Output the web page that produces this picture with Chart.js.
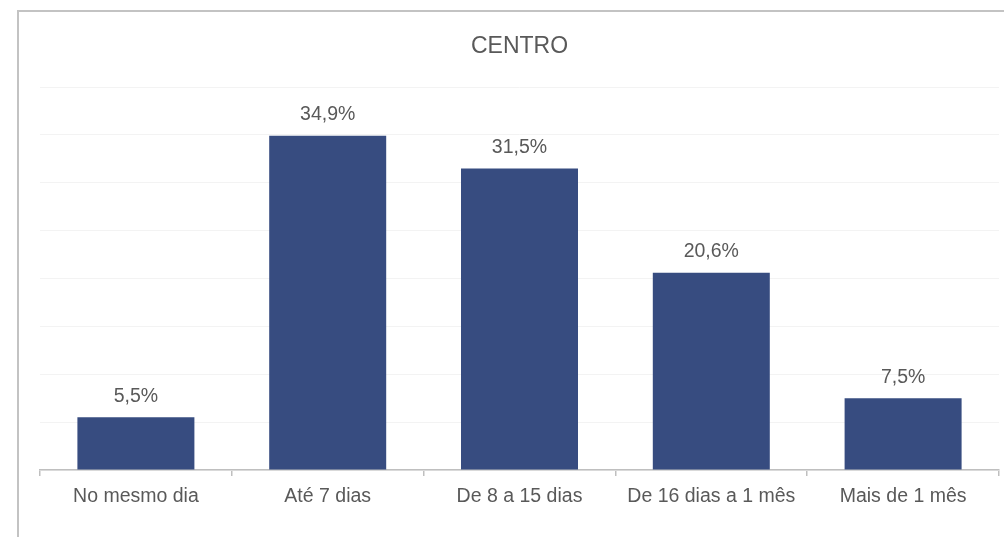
<!DOCTYPE html>
<html>
<head>
<meta charset="utf-8">
<script src="https://cdn.jsdelivr.net/npm/chart.js@4"></script>
<style>
  html, body { margin: 0; padding: 0; background: #fff; overflow: hidden; }
  #frame { position: absolute; left: 17px; top: 10px; width: 1100px; height: 600px;
           border-left: 2px solid #c3c3c3; border-top: 2px solid #c3c3c3; }
  #wrap { position: absolute; left: 0; top: 0; width: 1004px; height: 537px; }
</style>
</head>
<body>
<div id="frame"></div>
<div id="wrap"><canvas id="myChart"></canvas></div>
<script>
'use strict';
// values (percent)
let categories = ['No mesmo dia', 'Até 7 dias', 'De 8 a 15 dias', 'De 16 dias a 1 mês', 'Mais de 1 mês'];
let values = [5.5, 34.9, 31.5, 20.6, 7.5];
let chartTitle = 'CENTRO';
let fontName = '"Liberation Sans", Arial, sans-serif';
let textColor = '#595959';

// draws the "34,9%" labels over each bar
let barLabels = {
    id: 'barLabels',
    afterDatasetsDraw(chart) {
        let ctx = chart.ctx;
        let meta = chart.getDatasetMeta(0);
        ctx.save();
        ctx.font = '19.5px ' + fontName;
        ctx.fillStyle = textColor;
        ctx.textAlign = 'center';
        ctx.textBaseline = 'middle';
        meta.data.forEach(function (bar, i) {
            let txt = values[i].toFixed(1).replace('.', ',') + '%';
            ctx.fillText(txt, bar.x, bar.y - 21);
        });
        ctx.restore();
    }
};

let ctx = document.getElementById('myChart').getContext('2d');
let myChart = new Chart(ctx, {
    type: 'bar',
    data: {
        labels: categories,
        datasets: [{
            data: values,
            backgroundColor: '#374C80',
            borderWidth: 0,
            categoryPercentage: 1,
            barPercentage: 0.61
        }]
    },
    plugins: [barLabels],
    options: {
        responsive: true,
        maintainAspectRatio: false,
        animation: false,
        layout: { padding: { left: 40, right: 5, top: 0, bottom: 0 } },
        plugins: {
            legend: { display: false },
            tooltip: { enabled: false },
            title: {
                display: true,
                text: chartTitle,
                color: textColor,
                font: { family: fontName, size: 23, weight: 'normal' },
                padding: { top: 33, bottom: 26.4 }
            }
        },
        scales: {
            x: {
                offset: true,
                grid: { offset: true, drawOnChartArea: false, drawTicks: true, tickLength: 6, color: '#bfbfbf', lineWidth: 1.5 },
                border: { color: '#bfbfbf', width: 1.5 },
                ticks: { color: textColor, font: { family: fontName, size: 19.5 }, padding: 9, maxRotation: 0 },
                afterFit(axis) { axis.height = 537 - 470; }
            },
            y: {
                min: 0,
                max: 40,
                ticks: { display: false, stepSize: 5 },
                grid: { color: '#f3f3f3', drawTicks: false, lineWidth: 1 },
                border: { display: false },
                afterFit(axis) { axis.width = 0; }
            }
        }
    }
});
</script>
</body>
</html>
